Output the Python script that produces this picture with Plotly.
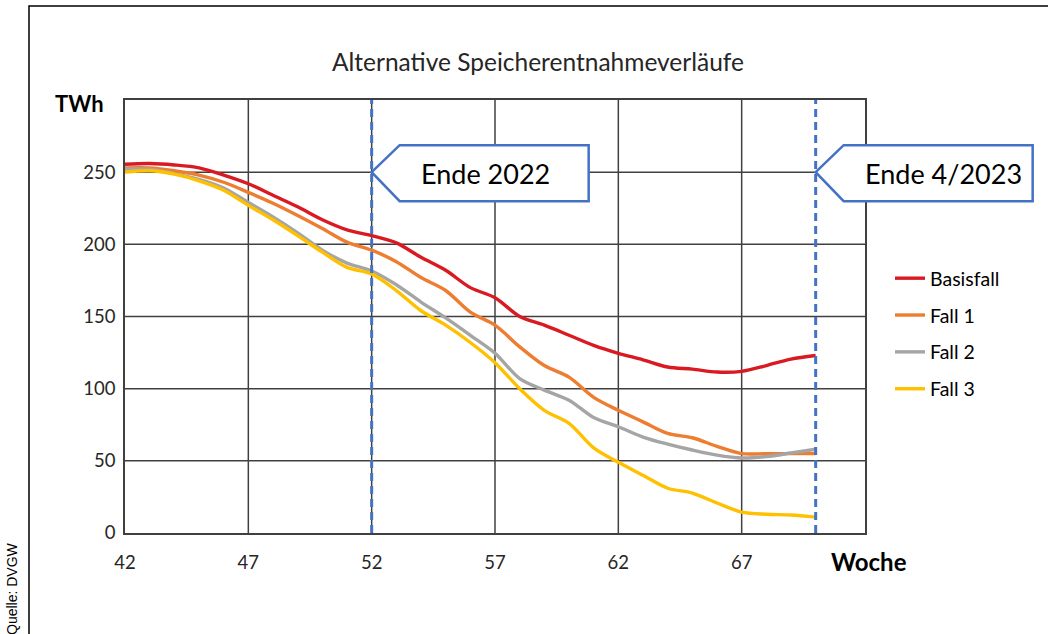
import plotly.graph_objects as go

# Weekly storage levels (TWh) per scenario, weeks 42..70
weeks = list(range(42, 71))

basisfall = [255.5, 256, 255, 253, 248, 242, 234, 226, 217, 210, 206,
             201, 191, 182, 170, 163, 150, 144, 137, 130, 124.5,
             120, 115, 113.5, 111.5, 112, 116, 120.5, 123]
fall1 = [253, 253, 251, 248, 243, 236, 228.5, 220, 211, 201.5, 196,
         188, 177, 168, 153, 144, 129, 116, 108, 94, 85,
         77, 69, 66, 60, 55, 55, 55, 55]
fall2 = [252, 252, 249, 245, 239, 229, 219, 208, 196, 187, 181.5,
         172, 160, 149, 137, 124.6, 107, 99, 92, 80, 73.6,
         66.5, 61.6, 57.5, 54, 52, 53, 55.4, 58]
fall3 = [250, 251, 248.6, 244, 237.5, 227, 217, 206, 194.6, 184, 179.5,
         168, 154, 144, 132, 118, 100, 85, 76, 59, 49,
         40, 31, 27.7, 20.8, 14.5, 13, 12.5, 11]

series_names = ["Basisfall", "Fall 1", "Fall 2", "Fall 3"]
series_values = [basisfall, fall1, fall2, fall3]
series_colors = ["#DA1A22", "#ED7D31", "#A5A5A5", "#FFC000"]

x_ticks = [42, 47, 52, 57, 62, 67]
y_ticks = [0, 50, 100, 150, 200, 250]

markers = [(52, "Ende 2022"), (70, "Ende 4/2023")]
marker_level = 250

# Figure geometry (pixels)
W, H = 1048, 634
ML, MR, MT, MB = 125, 183, 100, 101
PW, PH = W - ML - MR, H - MT - MB
X_RANGE = (42, 72)
Y_RANGE = (0, 300)
BLUE = "#4472C4"
GRID = "#404040"
FONT = "Lato, 'Open Sans', sans-serif"


def px_x(v):
    return ML + (v - X_RANGE[0]) / (X_RANGE[1] - X_RANGE[0]) * PW


def px_y(v):
    return MT + PH - (v - Y_RANGE[0]) / (Y_RANGE[1] - Y_RANGE[0]) * PH


def paper_x(px):
    return (px - ML) / PW


def paper_y(py):
    return (MT + PH - py) / PH


fig = go.Figure()
for name, vals, col in zip(series_names, series_values, series_colors):
    fig.add_trace(go.Scatter(
        x=weeks, y=vals, name=name, mode="lines",
        line=dict(color=col, width=3.4, shape="spline", smoothing=0.9),
        legendgroup=name,
    ))

shapes = []
annotations = []

# Outer frame
shapes.append(dict(type="rect", xref="paper", yref="paper",
                   x0=paper_x(29), x1=paper_x(1070), y0=paper_y(660), y1=paper_y(6),
                   line=dict(color="#000000", width=1.5), fillcolor="rgba(0,0,0,0)",
                   layer="below"))

# Grid every 5 weeks and every 50 TWh
for gx in [47, 52, 57, 62, 67]:
    shapes.append(dict(type="line", xref="x", yref="y", x0=gx, x1=gx,
                       y0=Y_RANGE[0], y1=Y_RANGE[1],
                       line=dict(color=GRID, width=1.5), layer="below"))
for gy in [50, 100, 150, 200, 250]:
    shapes.append(dict(type="line", xref="x", yref="y", x0=X_RANGE[0], x1=X_RANGE[1],
                       y0=gy, y1=gy, line=dict(color=GRID, width=1.5), layer="below"))

for week, label in markers:
    # vertical dashed marker
    shapes.append(dict(type="line", xref="x", yref="y", x0=week, x1=week,
                       y0=Y_RANGE[0], y1=Y_RANGE[1],
                       line=dict(color=BLUE, width=3, dash="8px,5px")))
    # callout box pointing at the marker
    tx, ty = px_x(week), px_y(marker_level)
    pts = [(tx, ty), (tx + 28, ty - 27), (tx + 217, ty - 27),
           (tx + 217, ty + 29), (tx + 28, ty + 29)]
    path = "M " + " L ".join(f"{paper_x(a):.5f},{paper_y(b):.5f}" for a, b in pts) + " Z"
    shapes.append(dict(type="path", xref="paper", yref="paper", path=path,
                       fillcolor="white", line=dict(color=BLUE, width=2.5)))
    annotations.append(dict(xref="paper", yref="paper",
                            x=paper_x(tx + 47), y=paper_y(ty + 1),
                            text=label, showarrow=False,
                            font=dict(family=FONT, size=27, color="#000000"),
                            xanchor="left", yanchor="middle"))

# Axis captions
annotations.append(dict(xref="paper", yref="paper", x=paper_x(79), y=paper_y(103),
                        text="<b>TWh</b>", showarrow=False,
                        font=dict(family=FONT, size=22, color="#000000"),
                        xanchor="center", yanchor="middle"))
annotations.append(dict(xref="paper", yref="paper", x=paper_x(869), y=paper_y(561),
                        text="<b>Woche</b>", showarrow=False,
                        font=dict(family=FONT, size=24, color="#000000"),
                        xanchor="center", yanchor="middle"))
annotations.append(dict(xref="paper", yref="paper", x=paper_x(12), y=paper_y(589),
                        text="Quelle: DVGW", showarrow=False, textangle=-90,
                        font=dict(family="'Liberation Sans Narrow', 'Liberation Sans', sans-serif",
                                  size=14, color="#000000"),
                        xanchor="center", yanchor="middle"))

fig.update_layout(
    width=W, height=H,
    margin=dict(l=ML, r=MR, t=MT, b=MB, autoexpand=False),
    paper_bgcolor="white", plot_bgcolor="white",
    title=dict(text="Alternative Speicherentnahmeverläufe",
               x=paper_x(538), xref="paper", xanchor="center",
               y=1 - 62 / H, yanchor="middle",
               font=dict(family=FONT, size=24.5, color="#262626")),
    font=dict(family=FONT, color="#262626"),
    shapes=shapes,
    annotations=annotations,
    showlegend=True,
    legend=dict(x=paper_x(890), y=paper_y(259), xanchor="left", yanchor="top",
                bgcolor="rgba(0,0,0,0)", font=dict(family=FONT, size=19.5, color="#000000"),
                tracegroupgap=8.5, itemwidth=30),
)

fig.update_xaxes(range=list(X_RANGE), tickvals=x_ticks, ticktext=[str(v) for v in x_ticks],
                 showgrid=False, zeroline=False, ticks="",
                 showline=True, linecolor=GRID, linewidth=1.5, mirror=True,
                 tickfont=dict(family=FONT, size=18.5, color="#262626"),
                 ticklabelstandoff=12)
fig.update_yaxes(range=list(Y_RANGE), tickvals=y_ticks,
                 showgrid=False, zeroline=False, ticks="",
                 showline=True, linecolor=GRID, linewidth=1.5, mirror=True,
                 tickfont=dict(family=FONT, size=18.5, color="#262626"),
                 ticklabelstandoff=4)

fig.write_html("out.html")
